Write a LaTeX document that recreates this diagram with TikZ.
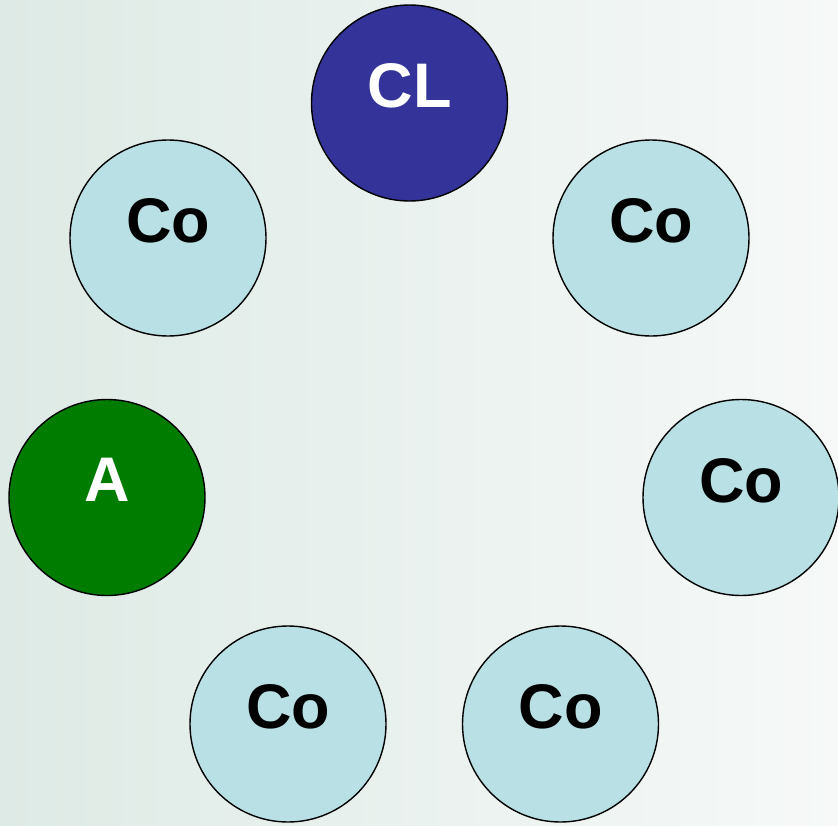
\documentclass[tikz,border=0pt]{standalone}
\usepackage{fontspec}
\setmainfont{Liberation Sans}
\usetikzlibrary{shapes.geometric}
\definecolor{bgleft}{RGB}{222,234,229}
\definecolor{bgmid}{RGB}{238,243,241}
\definecolor{bgright}{RGB}{246,249,248}
\definecolor{clblue}{RGB}{51,51,153}
\definecolor{agreen}{RGB}{0,124,0}
\definecolor{cofill}{RGB}{185,224,228}
\begin{document}
\begin{tikzpicture}[x=1pt,y=-1pt,
  ball/.style={circle,draw=black,line width=1.4pt,minimum size=196pt,inner sep=0pt},
  tag/.style={font=\fontsize{63}{70}\selectfont\bfseries},
  conode/.style={ball,fill=cofill,label={[tag,text=black,yshift=17pt]center:Co}}]
  % background
  \shade[left color=bgleft,middle color=bgmid,right color=bgright] (0,0) rectangle (838,825);
  \useasboundingbox (0,0) rectangle (838,825);
  % ring of circles
  \node[ball,fill=clblue,label={[tag,text=white,yshift=17pt]center:CL}] (cl) at (409.5,103) {};
  \node[conode] (co1) at (168,238) {};
  \node[conode] (co2) at (651,238) {};
  \node[ball,fill=agreen,label={[tag,text=white,yshift=18pt]center:A}] (a) at (107,497.5) {};
  \node[conode] (co3) at (741,497.5) {};
  \node[conode] (co4) at (288,724) {};
  \node[conode] (co5) at (560.5,724) {};
\end{tikzpicture}
\end{document}
